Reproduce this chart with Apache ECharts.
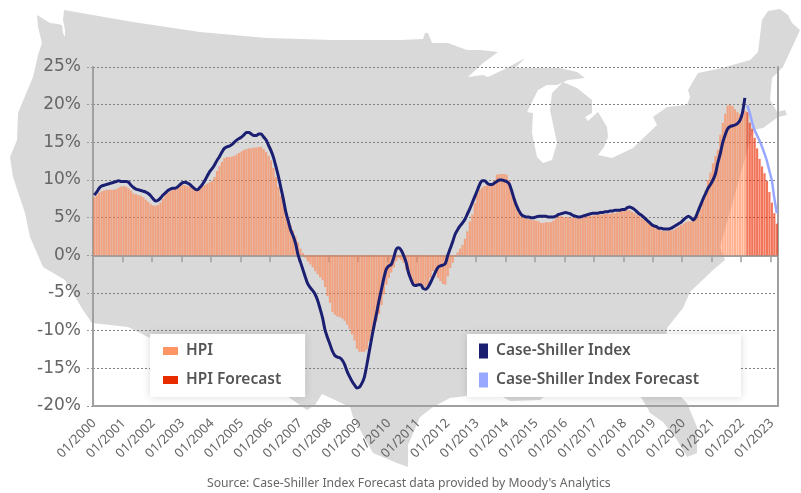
<!DOCTYPE html>
<html>
<head>
<meta charset="utf-8">
<style>
  html, body { margin: 0; padding: 0; background: #fff; }
  #main { width: 801px; height: 493px; filter: blur(0.4px); }
</style>
<script src="https://cdn.jsdelivr.net/npm/echarts@6/dist/echarts.min.js"></script>
</head>
<body>
<div id="main"></div>
<script>
// one value per month, a row per year, starting 01/2000
var hpiActual = [
  7.7, 8.0, 8.3, 8.5, 8.6, 8.7, 8.7, 8.7, 8.7, 8.8, 9.0, 9.15,
  9.2, 9.1, 8.9, 8.6, 8.2, 8.1, 8.0, 7.9, 7.7, 7.4, 7.1, 6.8,
  6.6, 6.6, 6.7, 7.0, 7.5, 8.0, 8.3, 8.5, 8.7, 9.0, 9.2, 9.4,
  9.4, 9.3, 9.2, 9.1, 8.9, 8.7, 8.6, 8.8, 9.1, 9.3, 9.5, 9.7,
  9.9, 10.4, 11.2, 11.8, 12.4, 12.9, 13.05, 13.05, 13.1, 13.2, 13.4, 13.6,
  13.8, 14.0, 14.1, 14.2, 14.2, 14.3, 14.3, 14.4, 14.4, 14.1, 13.7, 13.2,
  12.6, 11.6, 10.4, 9.1, 7.9, 7.1, 6.0, 5.0, 4.0, 3.3, 2.5, 1.7,
  0.9, 0.3, -0.3, -0.8, -1.2, -1.6, -2.1, -2.5, -2.9, -3.3, -4.2, -5.4,
  -6.3, -7.5, -7.9, -8.1, -8.2, -8.4, -8.7, -9.2, -9.8, -10.5, -11.3, -12.4,
  -12.8, -12.8, -12.8, -12.5, -11.4, -10.6, -9.7, -8.7, -7.8, -6.6, -5.2, -3.9,
  -3.0, -2.3, -1.6, -0.8, -0.4, -0.6, -1.0, -1.9, -2.7, -3.3, -3.9, -3.9,
  -3.9, -3.9, -4.0, -4.3, -3.9, -3.0, -2.1, -2.3, -3.0, -3.4, -3.8, -3.9,
  -2.8, -1.7, -1.0, -0.2, 0.4, 0.9, 1.4, 2.2, 3.2, 4.5, 5.4, 6.9,
  8.2, 8.7, 9.0, 9.2, 9.3, 9.4, 9.5, 10.0, 10.7, 10.8, 10.8, 10.8,
  10.7, 10.0, 8.8, 7.6, 6.2, 5.6, 5.2, 5.0, 4.9, 4.8, 4.7, 4.7,
  4.6, 4.5, 4.3, 4.3, 4.4, 4.4, 4.4, 4.6, 4.9, 5.2, 5.2, 5.1,
  5.1, 5.1, 5.0, 5.0, 5.0, 4.9, 4.9, 5.0, 5.1, 5.2, 5.2, 5.3,
  5.3, 5.4, 5.4, 5.4, 5.5, 5.5, 5.5, 5.6, 5.6, 5.7, 5.8, 5.9,
  6.0, 6.0, 6.0, 5.8, 5.6, 5.4, 5.2, 4.9, 4.7, 4.5, 4.2, 4.0,
  3.8, 3.6, 3.5, 3.3, 3.2, 3.2, 3.3, 3.3, 3.4, 3.6, 3.8, 4.0,
  4.2, 4.4, 4.5, 4.5, 4.6, 5.0, 5.5, 6.2, 7.4, 8.6, 10.0, 11.0,
  12.2, 13.2, 14.0, 16.0, 17.6, 18.8, 19.9, 20.0, 19.8, 19.4, 19.0, 18.7,
  18.8, 19.2
];
var hpiForecast = [19.0, 17.6, 16.8, 15.6, 14.2, 12.8, 11.8, 10.9, 9.9, 8.4, 7.0, 5.6, 4.2];

var csActual = [
  8.0, 8.4, 8.9, 9.2, 9.3, 9.4, 9.5, 9.6, 9.7, 9.8, 9.9, 9.8,
  9.8, 9.8, 9.7, 9.3, 9.0, 8.8, 8.7, 8.6, 8.5, 8.4, 8.2, 7.9,
  7.5, 7.2, 7.3, 7.6, 8.0, 8.3, 8.6, 8.8, 8.9, 8.9, 9.1, 9.4,
  9.65, 9.7, 9.6, 9.4, 9.1, 8.8, 8.7, 9.0, 9.4, 9.9, 10.5, 11.1,
  11.5, 12.0, 12.6, 13.1, 13.7, 14.2, 14.4, 14.5, 14.7, 15.0, 15.3, 15.5,
  15.7, 16.0, 16.3, 16.3, 16.1, 15.9, 15.9, 16.1, 16.1, 15.7, 15.3, 14.6,
  13.9, 13.0, 11.8, 10.5, 9.0, 7.5, 5.8, 4.6, 3.4, 2.6, 1.6, 0.1,
  -0.9, -1.9, -2.9, -3.8, -4.3, -4.7, -5.2, -6.0, -7.1, -8.3, -9.9, -10.9,
  -11.8, -12.7, -13.3, -13.5, -13.6, -13.9, -14.5, -15.4, -16.1, -16.7, -17.2, -17.6,
  -17.5, -17.0, -16.2, -14.6, -12.8, -11.0, -9.3, -7.7, -6.0, -4.5, -3.0, -1.8,
  -1.4, -1.2, -0.3, 0.8, 1.0, 0.7, 0.0, -0.9, -2.3, -3.2, -3.9, -4.0,
  -3.9, -3.9, -4.4, -4.5, -4.2, -3.6, -2.9, -2.2, -1.6, -1.4, -1.3, -1.1,
  0.0, 0.9, 1.8, 2.8, 3.4, 3.9, 4.3, 4.8, 5.5, 6.2, 7.0, 7.8,
  8.6, 9.4, 9.9, 9.9, 9.6, 9.4, 9.4, 9.6, 9.8, 10.0, 10.0, 9.9,
  9.8, 9.5, 8.6, 7.5, 6.6, 5.9, 5.4, 5.2, 5.1, 5.1, 5.0, 5.0,
  5.1, 5.2, 5.2, 5.2, 5.2, 5.1, 5.1, 5.1, 5.2, 5.4, 5.5, 5.6,
  5.7, 5.6, 5.5, 5.3, 5.2, 5.1, 5.1, 5.2, 5.3, 5.4, 5.5, 5.6,
  5.6, 5.6, 5.7, 5.7, 5.8, 5.8, 5.9, 5.9, 6.0, 6.0, 6.0, 6.1,
  6.1, 6.3, 6.4, 6.3, 6.1, 5.8, 5.5, 5.3, 5.0, 4.7, 4.4, 4.1,
  3.9, 3.8, 3.6, 3.6, 3.5, 3.5, 3.5, 3.6, 3.8, 4.0, 4.2, 4.4,
  4.7, 5.0, 5.2, 5.0, 4.7, 5.1, 5.9, 6.7, 7.5, 8.2, 8.9, 9.4,
  10.0, 10.8, 12.3, 13.5, 15.0, 16.0, 16.8, 17.1, 17.2, 17.3, 17.5, 17.9,
  18.9, 20.9
];
var csForecast = [19.9, 18.9, 17.6, 16.6, 15.9, 15.2, 14.4, 13.5, 12.5, 11.2, 9.9, 7.6, 5.6];

// background map, page pixels
var usMapOutline = [
  [37, 15], [50, 23], [58, 24], [62, 25], [63, 33], [65, 37], [65, 30], [63, 20], [64, 10],
  [133, 22], [200, 32], [267, 38], [333, 40], [400, 40], [423, 39], [425, 33], [428, 33], [432, 43],
  [448, 43], [467, 50], [480, 50], [498, 52], [483, 63], [468, 77], [483, 75], [488, 77], [507, 68],
  [525, 58], [515, 68], [533, 68], [560, 68], [577, 72], [585, 78], [568, 80], [557, 85], [547, 85],
  [538, 90], [527, 112], [533, 113], [532, 133], [537, 157], [543, 163], [552, 160], [557, 143],
  [550, 110], [552, 93], [563, 82], [577, 88], [592, 100], [592, 113], [585, 117], [588, 121],
  [598, 112], [607, 127], [608, 137], [604, 147], [598, 155], [612, 158], [633, 148], [657, 125],
  [653, 117], [667, 107], [687, 105], [690, 97], [688, 90], [698, 73], [722, 68], [750, 60], [758, 52],
  [762, 20], [768, 11], [780, 9], [788, 15], [792, 23], [800, 30], [783, 67], [772, 78], [770, 100],
  [777, 112], [785, 110], [787, 115], [778, 117], [763, 128], [753, 130], [720, 247], [725, 260],
  [713, 270], [690, 292], [683, 308], [667, 328], [664, 360], [677, 393], [687, 403], [697, 427],
  [697, 453], [687, 457], [677, 440], [663, 422], [650, 413], [647, 407], [640, 396], [545, 396],
  [540, 400], [510, 401], [503, 397], [467, 396], [450, 398], [433, 407], [420, 417], [408, 445],
  [408, 467], [397, 463], [373, 453], [353, 417], [350, 407], [322, 394], [315, 405], [307, 410],
  [287, 396], [240, 380], [150, 338], [128, 327], [92, 323], [83, 310], [65, 280], [43, 267],
  [30, 237], [25, 213], [13, 177], [10, 157], [17, 140], [18, 113], [33, 77], [38, 55], [42, 43], [38, 27]
];

var categories = [];
for (var y = 2000; y <= 2023; y++) {
  for (var m = 1; m <= 12; m++) {
    if (y == 2023 && m > 3) break;
    categories.push((m < 10 ? '0' + m : m) + '/' + y);
  }
}

function before(values) {
  return values.concat(new Array(categories.length - values.length).fill(null));
}
function after(values) {
  return new Array(categories.length - values.length).fill(null).concat(values);
}

var yTicks = { min: -20, max: 25, interval: 5 };
var axisGray = '#a0a0a0';
var textGray = '#666';
var fontName = '"Noto Sans", sans-serif';

var myChart = echarts.init(document.getElementById('main'));

var legendText = {
  fontFamily: fontName,
  fontSize: 15.5,
  fontWeight: 600,
  color: '#555',
  padding: [0, 0, 0, 3]
};

var option = {
  backgroundColor: '#fff',
  animation: false,
  title: {
    text: "Source: Case-Shiller Index Forecast data provided by Moody's Analytics",
    left: 207,
    top: 478,
    padding: 0,
    textStyle: { fontFamily: fontName, fontSize: 12.2, fontWeight: 'normal', color: textGray }
  },
  graphic: [{
    type: 'polygon',
    z: -10,
    silent: true,
    shape: { points: usMapOutline },
    style: { fill: '#d9d9d9' }
  }],
  grid: { left: 93, right: 23, top: 67, bottom: 87 },
  legend: [
    {
      left: 150,
      top: 334,
      orient: 'vertical',
      selectedMode: false,
      backgroundColor: '#fff',
      shadowColor: 'rgba(0,0,0,0.15)',
      shadowBlur: 8,
      padding: [9, 24, 9, 13],
      itemWidth: 15,
      itemHeight: 8,
      itemGap: 13,
      textStyle: legendText,
      data: [
        { name: 'HPI', icon: 'rect', itemStyle: { color: '#ff9464' } },
        { name: 'HPI Forecast', icon: 'rect', itemStyle: { color: '#e92b00' } }
      ]
    },
    {
      left: 467,
      top: 334,
      orient: 'vertical',
      selectedMode: false,
      backgroundColor: '#fff',
      shadowColor: 'rgba(0,0,0,0.15)',
      shadowBlur: 8,
      padding: [9, 42, 9, 12],
      itemWidth: 9,
      itemHeight: 15,
      itemGap: 13,
      textStyle: legendText,
      data: [{ name: 'Case-Shiller Index', icon: 'rect' }, { name: 'Case-Shiller Index Forecast', icon: 'rect' }]
    }
  ],
  xAxis: [
    {
      type: 'category',
      data: categories,
      position: 'bottom',
      axisLine: { onZero: false, lineStyle: { color: axisGray, width: 2 } },
      axisTick: { show: false },
      axisLabel: {
        interval: 11,
        rotate: 45,
        margin: 15,
        fontFamily: fontName,
        fontSize: 13,
        color: textGray
      }
    },
    {
      type: 'category',
      data: categories,
      position: 'bottom',
      axisLine: { onZero: true, lineStyle: { color: axisGray, width: 2 } },
      axisTick: { show: true, interval: 11, length: 7, lineStyle: { color: axisGray, width: 1.5 } },
      axisLabel: { show: false }
    }
  ],
  yAxis: [
    {
      type: 'value',
      min: yTicks.min,
      max: yTicks.max,
      interval: yTicks.interval,
      axisLine: { show: true, onZero: false, lineStyle: { color: axisGray, width: 2 } },
      axisTick: { show: true, length: 6, lineStyle: { color: '#999', type: [2, 2] } },
      axisLabel: {
        formatter: '{value}%',
        margin: 12,
        fontFamily: '"DejaVu Sans", sans-serif',
        fontSize: 17,
        color: textGray
      },
      splitLine: { show: true, lineStyle: { color: '#808080', width: 1, type: [2, 2] } }
    },
    {
      type: 'value',
      position: 'right',
      min: yTicks.min,
      max: yTicks.max,
      interval: yTicks.interval,
      axisLine: { show: true, onZero: false, lineStyle: { color: axisGray, width: 2 } },
      axisTick: { show: false },
      axisLabel: { show: false },
      splitLine: { show: false }
    }
  ],
  series: [
    {
      name: 'HPI',
      type: 'bar',
      data: before(hpiActual),
      barGap: '-100%',
      barCategoryGap: '12%',
      itemStyle: { color: 'rgba(255,125,70,0.6)' }
    },
    {
      name: 'HPI Forecast',
      type: 'bar',
      data: after(hpiForecast),
      itemStyle: { color: 'rgba(236,50,10,0.68)' }
    },
    {
      name: 'Case-Shiller Index Forecast',
      type: 'line',
      data: after(csForecast),
      symbol: 'none',
      smooth: 0.3,
      itemStyle: { color: '#98a8ff' },
      lineStyle: { color: '#98a8ff', width: 2.5 }
    },
    {
      name: 'Case-Shiller Index',
      type: 'line',
      data: before(csActual),
      symbol: 'none',
      smooth: 0.3,
      itemStyle: { color: '#1b1f71' },
      lineStyle: { color: '#1b1f71', width: 3 }
    }
  ]
};

option && myChart.setOption(option);
</script>
</body>
</html>
